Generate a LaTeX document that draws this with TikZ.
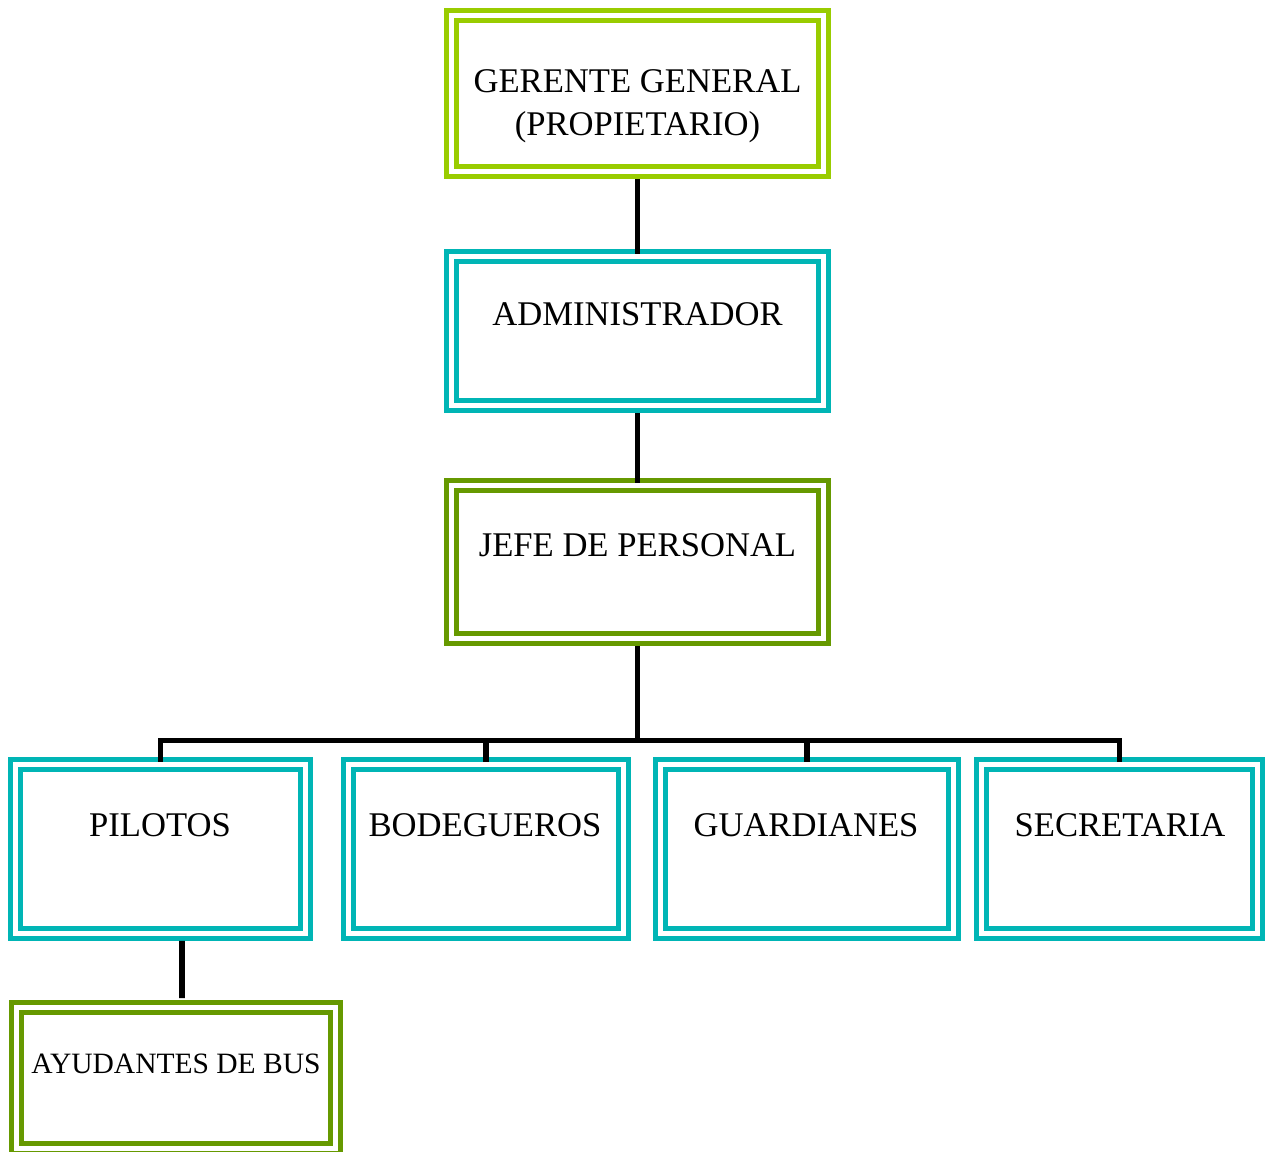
\documentclass[tikz,border=0pt]{standalone}
\usepackage{fontspec}
\setmainfont{Liberation Serif}
\usetikzlibrary{positioning}
\definecolor{limegreen}{HTML}{99CC00}
\definecolor{tealblue}{HTML}{00B5B5}
\definecolor{olivegreen}{HTML}{669900}

\begin{document}
\begin{tikzpicture}[x=0.02cm, y=-0.02cm]
    % Styles
    \tikzstyle{box} = [draw, double=white, line width=0.095cm, double distance=0.115cm, inner sep=0pt, outer sep=0pt]
    \tikzstyle{txt} = [font=\fontsize{19.7}{24.4}\selectfont, align=center, inner sep=0pt, anchor=base]
    \tikzstyle{conn} = [line width=0.115cm]

    \useasboundingbox (0, 0) rectangle (1265, 1152);

    % Top of the chart
    \node[box, draw=limegreen, minimum width=7.44cm, minimum height=3.12cm] (ger) at (637.5, 93.5) {};
    \node[txt, anchor=center] (gerT) at (637.5, 106) {GERENTE GENERAL\\(PROPIETARIO)};

    \node[box, draw=tealblue, minimum width=7.44cm, minimum height=2.98cm] (adm) at (637.5, 331) {};
    \node[txt] (admT) at (637.5, 326) {ADMINISTRADOR};

    \node[box, draw=olivegreen, minimum width=7.44cm, minimum height=3.06cm] (jef) at (637.5, 562) {};
    \node[txt] (jefT) at (637.5, 556) {JEFE DE PERSONAL};

    % Staff row
    \node[box, draw=tealblue, minimum width=5.80cm, minimum height=3.38cm] (pil) at (160.5, 849) {};
    \node[txt] (pilT) at (160, 836) {PILOTOS};

    \node[box, draw=tealblue, minimum width=5.50cm, minimum height=3.38cm] (bod) at (486, 849) {};
    \node[txt] (bodT) at (485, 836) {BODEGUEROS};

    \node[box, draw=tealblue, minimum width=5.86cm, minimum height=3.38cm] (gua) at (807, 849) {};
    \node[txt] (guaT) at (806, 836) {GUARDIANES};

    \node[box, draw=tealblue, minimum width=5.52cm, minimum height=3.38cm] (sec) at (1119.5, 849) {};
    \node[txt] (secT) at (1120, 836) {SECRETARIA};

    % Under the pilots
    \node[box, draw=olivegreen, minimum width=6.38cm, minimum height=2.82cm] (ayu) at (176, 1078) {};
    \node[txt, font=\fontsize{16.8}{20}\selectfont] (ayuT) at (176, 1073) {AYUDANTES DE BUS};

    % Connectors
    \draw[conn] ([yshift=-0.15cm]ger.south) -- ([yshift=0.06cm]adm.north);
    \draw[conn] ([yshift=-0.15cm]adm.south) -- ([yshift=0.06cm]jef.north);

    \coordinate (bus) at (637.5, 740.5);
    \draw[conn] ([yshift=-0.15cm]jef.south) -- (bus);
    \draw[conn] ([yshift=0.06cm]pil.north) |- (bus) -| ([yshift=0.06cm]sec.north);
    \foreach \n in {bod, gua}
        \draw[conn] ([yshift=0.06cm]\n.north) -- (\n.north |- bus);

    \draw[conn] ([xshift=0.43cm, yshift=-0.15cm]pil.south) -- ([xshift=0.12cm, yshift=0.19cm]ayu.north);
\end{tikzpicture}
\end{document}
